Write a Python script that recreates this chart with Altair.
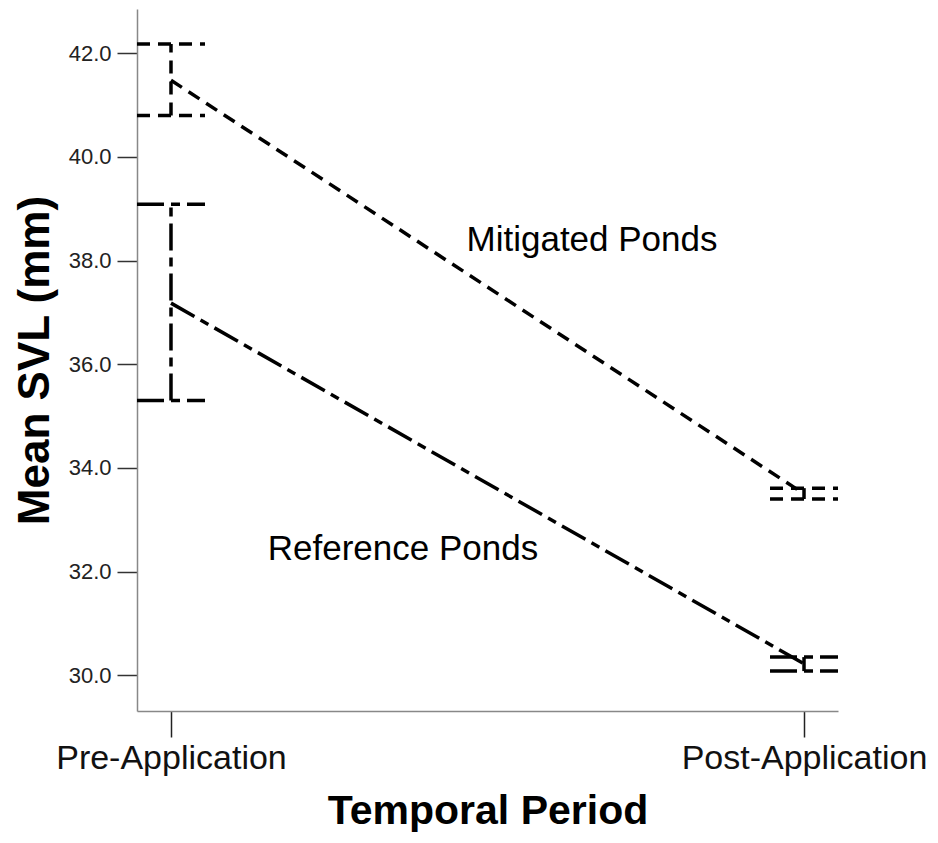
import altair as alt
import pandas as pd

periods = ["Pre-Application", "Post-Application"]
groups = ["Mitigated Ponds", "Reference Ponds"]
mit_mean = [41.48, 33.50]
mit_lo = [40.80, 33.40]
mit_hi = [42.18, 33.61]
ref_mean = [37.18, 30.22]
ref_lo = [35.30, 30.08]
ref_hi = [39.09, 30.35]
y_ticks = [30, 32, 34, 36, 38, 40, 42]

rows = []
for g, m, lo, hi in [(groups[0], mit_mean, mit_lo, mit_hi), (groups[1], ref_mean, ref_lo, ref_hi)]:
    for i, p in enumerate(periods):
        rows.append({"group": g, "period": p, "mean": m[i], "lo": lo[i], "hi": hi[i]})
df = pd.DataFrame(rows)

FONT = "Liberation Sans"

x_enc = alt.X("period:N", sort=periods,
              scale=alt.Scale(type="point", padding=0.0537),
              axis=alt.Axis(title="Temporal Period", labelAngle=0, labelFontSize=34,
                            labelFont=FONT, labelColor="#111", labelPadding=4, labelLimit=0,
                            tickSize=26, tickColor="#222", tickWidth=1.5,
                            domainColor="#888", domainWidth=1.5,
                            titleFontSize=41, titleFont=FONT, titleFontWeight="bold",
                            titleBaseline="middle", titleY=100, titleColor="black",
                            grid=False))
y_scale = alt.Scale(domain=[29.31, 42.855], nice=False, zero=False)
y_axis = alt.Axis(title="Mean SVL (mm)", values=y_ticks, format=".1f", labelFontSize=22,
                  labelFont=FONT, labelColor="#222", labelPadding=6,
                  tickSize=20, tickColor="#333", tickWidth=1.5,
                  domainColor="#888", domainWidth=1.5,
                  titleFontSize=44, titleFont=FONT, titleFontWeight="bold",
                  titleBaseline="middle", titleX=-102, titleColor="black", grid=False)

dash = alt.StrokeDash("group:N", scale=alt.Scale(domain=groups, range=[[13, 8], [27, 7, 9, 7]]),
                      legend=None)

SW = 3.5
base = alt.Chart(df)

lines = base.mark_line(color="black", strokeWidth=SW).encode(
    x=x_enc, y=alt.Y("mean:Q", scale=y_scale, axis=y_axis), strokeDash=dash, detail="group:N")

vrules = base.mark_rule(color="black", strokeWidth=SW).encode(
    x=alt.X("period:N", sort=periods), y=alt.Y("lo:Q"), y2="hi:Q", strokeDash=dash)

cap_hi = base.mark_rule(color="black", strokeWidth=SW, xOffset=-34, x2Offset=34).encode(
    x=alt.X("period:N", sort=periods), x2=alt.X2("period:N"), y=alt.Y("hi:Q"), strokeDash=dash)

cap_lo = base.mark_rule(color="black", strokeWidth=SW, xOffset=-34, x2Offset=34).encode(
    x=alt.X("period:N", sort=periods), x2=alt.X2("period:N"), y=alt.Y("lo:Q"), strokeDash=dash)

labels_df = pd.DataFrame({"label": groups})
label_mit = alt.Chart(labels_df).transform_filter(alt.datum.label == groups[0]).mark_text(
    font=FONT, fontSize=35, color="black", align="center", baseline="middle").encode(
    text="label:N", x=alt.value(455), y=alt.value(231))
label_ref = alt.Chart(labels_df).transform_filter(alt.datum.label == groups[1]).mark_text(
    font=FONT, fontSize=35, color="black", align="center", baseline="middle").encode(
    text="label:N", x=alt.value(266), y=alt.value(540))

chart = alt.layer(lines, vrules, cap_hi, cap_lo, label_mit, label_ref).properties(
    width=701, height=702,
    autosize=alt.AutoSizeParams(type="none"),
    padding={"left": 129, "top": 1, "right": 92, "bottom": 124},
).configure(background="white", view=alt.ViewConfig(stroke=None))

chart.save("out.html", embed_options={"renderer": "svg", "actions": False})
